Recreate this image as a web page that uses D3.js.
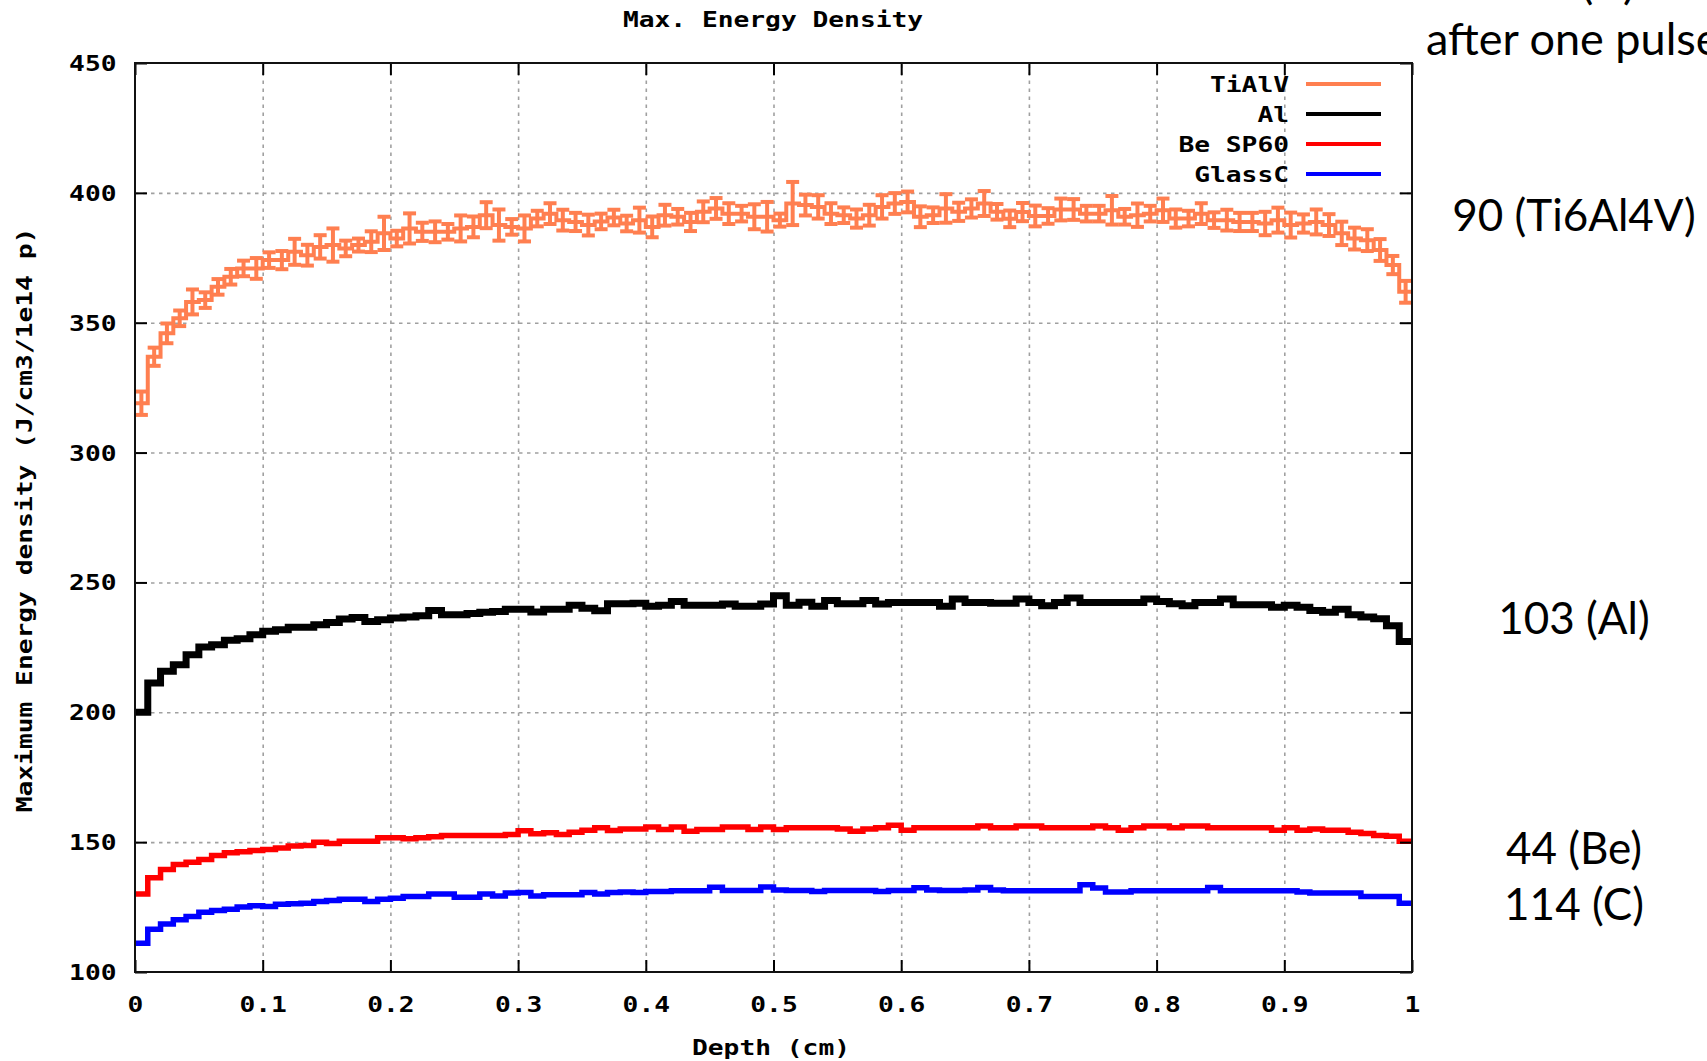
<!DOCTYPE html>
<html>
<head>
<meta charset="utf-8">
<script src="https://cdn.jsdelivr.net/npm/d3@7"></script>
<style>
  body { margin: 0; background: #fff; }
  svg { display: block; }
</style>
</head>
<body>
<svg width="1707" height="1061"></svg>
<script>
// depth bins of 0.01 cm
const binWidth = 0.01;
const binStart = d3.range(100).map(i => i * binWidth);

const tialv = [
  319, 336.9, 345.9, 351.7, 358, 358.7, 363.8, 367.7, 370.9, 370.9,
  374.1, 374.1, 377.3, 376, 379.2, 379.9, 378.6, 379.9, 381.2, 384.4,
  382.4, 386.3, 385, 385, 385, 386.3, 386.9, 391.4, 387.6, 386.9,
  386.3, 390.1, 392, 389.5, 388.8, 387.6, 389, 390.5, 388.2, 389.5,
  386.9, 391.4, 390.8, 388.8, 392.7, 394, 392, 392, 390.8, 390.8,
  389.5, 395.9, 395.3, 394.6, 392, 391.4, 390.1, 391.4, 394.6, 395.9,
  396.5, 390.8, 391.4, 394, 392.7, 394, 395.9, 392.7, 390, 392.6,
  391.1, 391.1, 393.6, 393.6, 392, 392, 393.3, 390.8, 391.4, 392,
  393.3, 390.1, 390.1, 392, 389.5, 389.5, 388.8, 388.8, 388.2, 389.5,
  387.6, 388.2, 388.8, 387.6, 384.4, 382.4, 381.8, 378, 372.2, 361.9
];
const tialvErr = [
  4.5, 3.5, 3.8, 3, 4.8, 3, 3, 3, 3, 4,
  3, 3.5, 5, 4, 4.5, 6.4, 3, 2.5, 4, 6.4,
  3, 5.8, 3.5, 4, 3, 5, 4, 5, 6, 3,
  5, 3, 4, 4, 3.5, 4, 3, 3, 3, 4.8,
  4, 4, 3, 3.5, 4, 4, 4, 3, 4.8, 5.7,
  2.5, 8.3, 4, 4.5, 4, 3, 3.5, 4, 4.5, 4,
  4, 4, 3, 5.5, 3.5, 3.5, 4.8, 3, 3.2, 3.5,
  4, 3, 4.2, 4, 3, 3, 5.5, 3, 4.5, 3,
  4.5, 3.5, 3, 4, 3, 4, 3.5, 3.5, 4.5, 4.8,
  4.8, 3.5, 4.8, 4.2, 4.5, 4.2, 4.2, 4.2, 3.5, 4.2
];
const al = [
  200, 211.3, 215.8, 218.3, 222.2, 225.1, 226, 227.7, 228.3, 229.9,
  231.2, 231.8, 232.7, 232.7, 233.7, 234.6, 235.9, 236.5, 235, 235.6,
  236.3, 236.7, 237.2, 239.2, 237.6, 237.6, 238, 238.5, 238.8, 239.7,
  239.7, 238.6, 239.7, 239.7, 241.2, 240.1, 239.1, 241.8, 241.8, 242,
  240.8, 241.2, 242.7, 241.2, 241.2, 241.2, 241.7, 240.8, 240.8, 241.7,
  244.9, 241.2, 242.4, 240.8, 243, 241.8, 241.8, 243, 241.7, 242.3,
  242.3, 242.3, 242.3, 240.8, 243.6, 242.3, 242.3, 242, 242, 243.6,
  242.3, 241, 242.3, 244, 242.3, 242.3, 242.3, 242.3, 242.3, 243.6,
  242.7, 241.8, 241, 242.3, 242.3, 243.6, 241.4, 241.4, 241.4, 240.4,
  241.2, 240.4, 239.2, 238.5, 239.7, 237.6, 236.7, 236, 233.3, 227.3
];
const beSP60 = [
  130, 136.3, 139.5, 141.4, 142.3, 143.3, 144.9, 145.9, 146.3, 146.8,
  147.2, 147.7, 148.5, 148.7, 150, 149.5, 150.3, 150.3, 150.3, 151.7,
  151.7, 151.3, 151.7, 152.1, 152.6, 152.6, 152.6, 152.6, 152.6, 152.9,
  154.4, 153.2, 153.6, 152.9, 153.8, 154.6, 155.5, 154.5, 155.1, 155.1,
  155.8, 154.9, 155.8, 154.2, 154.9, 154.9, 155.8, 155.8, 154.9, 155.8,
  154.9, 155.5, 155.5, 155.5, 155.5, 155.1, 154.2, 155.1, 155.5, 156.5,
  154.6, 155.5, 155.5, 155.5, 155.5, 155.5, 156.2, 155.5, 155.5, 156.2,
  156.2, 155.5, 155.5, 155.5, 155.5, 156.2, 155.5, 154.6, 155.5, 156.2,
  156.2, 155.5, 156.2, 156.2, 155.5, 155.5, 155.5, 155.5, 155.5, 154.6,
  155.5, 154.6, 155.1, 154.6, 154.6, 153.8, 153.3, 152.6, 152.3, 150.3
];
const glassC = [
  111.1, 116.5, 118.5, 120.1, 121.4, 123, 123.7, 124.2, 125, 125.5,
  125.2, 126.1, 126.3, 126.5, 127.1, 127.5, 128, 128, 127.1, 128,
  128.4, 129.1, 129.1, 130, 130, 128.8, 128.8, 130, 129.3, 130.4,
  130.6, 129.3, 129.7, 129.7, 129.7, 130.6, 130, 130.6, 130.8, 130.6,
  131, 131, 131.3, 131.3, 131.3, 132.6, 131.4, 131.4, 131.4, 132.7,
  131.6, 131.4, 131.4, 131, 131.4, 131.4, 131.4, 131.4, 131, 131.4,
  131.4, 132.4, 131.6, 131.4, 131.4, 131.6, 132.5, 131.6, 131.3, 131.3,
  131.3, 131.3, 131.3, 131.3, 133.6, 132.3, 130.8, 130.8, 131.3, 131.3,
  131.3, 131.3, 131.3, 131.3, 132.5, 131.3, 131.3, 131.3, 131.3, 131.3,
  131.3, 130.8, 130.4, 130.4, 130.4, 130.4, 129.1, 129.1, 129.1, 126.5
];

const xTicks = [0, 0.1, 0.2, 0.3, 0.4, 0.5, 0.6, 0.7, 0.8, 0.9, 1];
const xTickLabels = ["0", "0.1", "0.2", "0.3", "0.4", "0.5", "0.6", "0.7", "0.8", "0.9", "1"];
const yTicks = [100, 150, 200, 250, 300, 350, 400, 450];

const seriesNames = ["TiAlV", "Al", "Be SP60", "GlassC"];
const seriesColors = ["#ff7f50", "#000000", "#ff0000", "#0000ff"];

const notes = ["90 (Ti6Al4V)", "103 (Al)", "44 (Be)", "114 (C)"];

const svg = d3.select("svg");
const plotL = 135, plotR = 1412, plotT = 63, plotB = 972;

const x = d3.scaleLinear().domain([0, 1]).range([plotL, plotR]);
const y = d3.scaleLinear().domain([100, 450]).range([plotB, plotT]);

const MONO = "DejaVu Sans Mono";
const SX = 1.25; // gnuplot bitmap font is wider than DejaVu

function monoText(str, tx, ty, anchor, rot) {
  return svg.append("text")
    .attr("transform", `translate(${tx},${ty})${rot ? " rotate(-90)" : ""} scale(${SX},1)`)
    .attr("text-anchor", anchor)
    .attr("dy", "0.36em")
    .attr("font-family", MONO)
    .attr("font-weight", "bold")
    .attr("font-size", 21)
    .attr("fill", "#000")
    .text(str);
}

// grid
const grid = svg.append("g");
grid.append("g")
  .attr("transform", `translate(0,${plotB})`)
  .call(d3.axisBottom(x).tickValues(xTicks.filter(d => d > 0 && d < 1)).tickSize(-(plotB - plotT)).tickFormat(""));
grid.append("g")
  .attr("transform", `translate(${plotL},0)`)
  .call(d3.axisLeft(y).tickValues(yTicks.filter(d => d > 100 && d < 450)).tickSize(-(plotR - plotL)).tickFormat(""));
grid.selectAll(".domain").remove();
grid.selectAll("line")
  .attr("stroke", "#a0a0a0")
  .attr("stroke-width", 1.6)
  .attr("stroke-dasharray", "3.5,4.5");

// step lines
const stepLine = vals => d3.line()
  .x(d => x(d[0]))
  .y(d => y(d[1]))
  .curve(d3.curveStepAfter)(binStart.map((b, i) => [b, vals[i]]).concat([[1, vals[vals.length - 1]]]));

// TiAlV with error bars
const errG = svg.append("g").attr("stroke", seriesColors[0]).attr("stroke-width", 4);
binStart.forEach((b, i) => {
  const cx = x(b + binWidth / 2);
  const y0 = y(tialv[i] - tialvErr[i]), y1 = y(tialv[i] + tialvErr[i]);
  errG.append("line").attr("x1", cx).attr("x2", cx).attr("y1", y0).attr("y2", y1);
  errG.append("line").attr("x1", cx - 6.5).attr("x2", cx + 6.5).attr("y1", y0).attr("y2", y0);
  errG.append("line").attr("x1", cx - 6.5).attr("x2", cx + 6.5).attr("y1", y1).attr("y2", y1);
});
svg.append("path")
  .attr("d", stepLine(tialv))
  .attr("fill", "none")
  .attr("stroke", seriesColors[0])
  .attr("stroke-width", 4);

[[al, 7], [beSP60, 5.5], [glassC, 5.5]].forEach(([vals, w], k) => {
  svg.append("path")
    .attr("d", stepLine(vals))
    .attr("fill", "none")
    .attr("stroke", seriesColors[k + 1])
    .attr("stroke-width", w);
});

// border and ticks on all sides
const tickLen = 12;
const axB = svg.append("g").attr("transform", `translate(0,${plotB})`)
  .call(d3.axisBottom(x).tickValues(xTicks).tickSizeInner(-tickLen).tickSizeOuter(0).tickFormat((d, i) => xTickLabels[i]));
const axT = svg.append("g").attr("transform", `translate(0,${plotT})`)
  .call(d3.axisTop(x).tickValues(xTicks).tickSizeInner(-tickLen).tickSizeOuter(0).tickFormat(""));
const axL = svg.append("g").attr("transform", `translate(${plotL},0)`)
  .call(d3.axisLeft(y).tickValues(yTicks).tickSizeInner(-tickLen).tickSizeOuter(0));
const axR = svg.append("g").attr("transform", `translate(${plotR},0)`)
  .call(d3.axisRight(y).tickValues(yTicks).tickSizeInner(-tickLen).tickSizeOuter(0).tickFormat(""));

[axB, axT, axL, axR].forEach(a => {
  a.select(".domain").remove();
  a.selectAll("line").attr("stroke", "#000").attr("stroke-width", 2);
  a.selectAll("text")
    .attr("font-family", MONO)
    .attr("font-weight", "bold")
    .attr("font-size", 21)
    .attr("fill", "#000");
});
axB.selectAll("text").attr("y", 32).attr("dy", "0.36em").attr("transform", `scale(${SX},1)`);
axL.selectAll("text").attr("x", -18.5 / SX).attr("dy", "0.36em").attr("transform", `scale(${SX},1)`);

svg.append("rect")
  .attr("x", plotL).attr("y", plotT)
  .attr("width", plotR - plotL).attr("height", plotB - plotT)
  .attr("fill", "none")
  .attr("stroke", "#111")
  .attr("stroke-width", 2);

// legend
seriesNames.forEach((name, i) => {
  const ly = 84 + i * 30;
  monoText(name, 1289, ly, "end");
  svg.append("line")
    .attr("x1", 1306).attr("x2", 1381)
    .attr("y1", ly).attr("y2", ly)
    .attr("stroke", seriesColors[i])
    .attr("stroke-width", 4);
});

// titles
monoText("Max. Energy Density", 773, 19, "middle");
monoText("Depth (cm)", 771, 1047, "middle");
monoText("Maximum Energy density (J/cm3/1e14 p)", 24, 520, "middle", true);

// side notes (the slide text runs off the top and right edge, as in the source)
const SANS = "Lato, 'Open Sans', sans-serif";
svg.append("text").attr("x", 1514).attr("y", -1)
  .attr("font-family", SANS).attr("font-size", 45).text("ΔT (K)");
svg.append("text").attr("x", 1426).attr("y", 55)
  .attr("font-family", SANS).attr("font-size", 45).text("after one pulse");
const noteY = [231, 634, 864, 920];
notes.forEach((t, i) => {
  svg.append("text")
    .attr("x", 1574).attr("y", noteY[i])
    .attr("text-anchor", "middle")
    .attr("font-family", SANS)
    .attr("font-size", 44)
    .attr("fill", "#000")
    .text(t);
});
</script>
</body>
</html>
